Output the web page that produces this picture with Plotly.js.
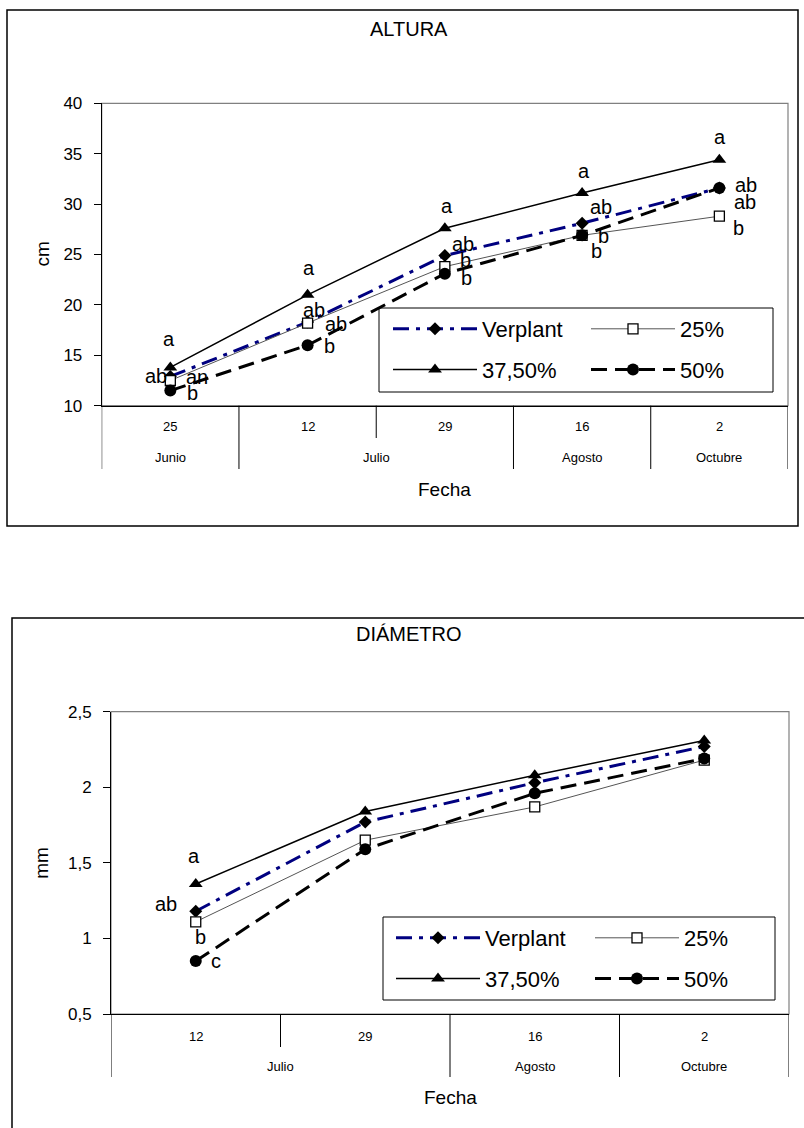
<!DOCTYPE html>
<html><head><meta charset="utf-8">
<script src="https://cdn.plot.ly/plotly-3.0.1.min.js"></script>
<style>html,body{margin:0;padding:0;background:#fff}</style>
</head><body><div id="chart" style="width:804px;height:1128px"></div>
<script>
// ---------------- DATA ----------------
const seriesNames = ['Verplant', '25%', '37,50%', '50%'];

// ALTURA (cm)
const alturaDays = ['25', '12', '29', '16', '2'];
const alturaMonths = ['Junio', 'Julio', 'Julio', 'Agosto', 'Octubre'];
const alturaVerplant = [12.9, 18.3, 24.9, 28.1, 31.6];
const altura25 = [12.5, 18.2, 23.8, 26.9, 28.8];
const altura3750 = [13.8, 21.0, 27.6, 31.1, 34.4];
const altura50 = [11.5, 16.0, 23.1, 26.9, 31.6];
const alturaLetVerplant = ['ab', 'ab', 'ab', 'ab', 'ab'];
const alturaLet25 = ['an', 'ab', 'b', 'b', 'b'];
const alturaLet3750 = ['a', 'a', 'a', 'a', 'a'];
const alturaLet50 = ['b', 'b', 'b', 'b', 'ab'];

// DIÁMETRO (mm)
const diamDays = ['12', '29', '16', '2'];
const diamMonths = ['Julio', 'Julio', 'Agosto', 'Octubre'];
const diamVerplant = [1.18, 1.77, 2.03, 2.27];
const diam25 = [1.11, 1.65, 1.87, 2.18];
const diam3750 = [1.36, 1.84, 2.08, 2.31];
const diam50 = [0.85, 1.59, 1.96, 2.19];
const diamLetVerplant = ['ab', '', '', ''];
const diamLet25 = ['b', '', '', ''];
const diamLet3750 = ['a', '', '', ''];
const diamLet50 = ['c', '', '', ''];

// ---------------- STYLE / POSITIONS ----------------
const W = 804, H = 1128;
const FONT = 'Liberation Sans, Arial, sans-serif';
const px = v => v / W;
const py = v => 1 - v / H;

const styles = [
  {line: {color: '#000080', width: 3, dash: '16px,7px,4px,7px'}, marker: {symbol: 'diamond', size: 10, color: '#000'}},
  {line: {color: '#555555', width: 1}, marker: {symbol: 'square', size: 10, color: '#fff', line: {color: '#000', width: 1.3}}},
  {line: {color: '#000', width: 1.5}, marker: {symbol: 'triangle-up', size: 12, color: '#000'}},
  {line: {color: '#000', width: 3, dash: '16px,8px'}, marker: {symbol: 'circle', size: 12, color: '#000'}}
];

// label offsets [xshift, yshift] per series and point
const alturaShift = [
  [[-14, 0], [6, 12], [18, 12], [19, 16], [26, -14]],
  [[27, 4], [28, -1], [21, 7], [21, -1], [19, -12]],
  [[-1, 28], [1, 27], [2, 22], [2, 22], [1, 23]],
  [[22, -2], [22, -1], [22, -4], [14, -16], [27, 3]]
];
const diamShift = [
  [[-30, 7], [0, 0], [0, 0], [0, 0]],
  [[5, -15], [0, 0], [0, 0], [0, 0]],
  [[-2, 28], [0, 0], [0, 0], [0, 0]],
  [[20, 0], [0, 0], [0, 0], [0, 0]]
];

const charts = [
  {
    days: alturaDays, months: alturaMonths,
    values: [alturaVerplant, altura25, altura3750, altura50],
    letters: [alturaLetVerplant, alturaLet25, alturaLet3750, alturaLet50],
    shifts: alturaShift,
    xa: 'x', ya: 'y', title: 'ALTURA', ytitle: 'cm',
    plot: {l: 101.7, r: 788, t: 103.3, b: 405.7},
    frame: {l: 7, r: 798, t: 10, b: 526},
    titleY: 29, dayY: 427, monthY: 457, divB: 469, innerB: 438, fechaY: 489, ytitleX: 42,
    yrange: [10, 40], dtick: 5,
    legBox: {l: 379, r: 773, t: 308, b: 392}, legTop: 308, legs: ['legend', 'legend2'], legX: [388, 586]
  },
  {
    days: diamDays, months: diamMonths,
    values: [diamVerplant, diam25, diam3750, diam50],
    letters: [diamLetVerplant, diamLet25, diamLet3750, diamLet50],
    shifts: diamShift,
    xa: 'x2', ya: 'y2', title: 'DIÁMETRO', ytitle: 'mm',
    plot: {l: 111, r: 789, t: 711.7, b: 1014},
    frame: {l: 12, r: 830, t: 618, b: 1160},
    titleY: 634, dayY: 1036, monthY: 1066, divB: 1077, innerB: 1047, fechaY: 1097, ytitleX: 42,
    yrange: [0.5, 2.5], dtick: 0.5,
    legBox: {l: 383, r: 775, t: 917, b: 1000}, legTop: 917, legs: ['legend3', 'legend4'], legX: [391, 590]
  }
];

const traces = [], annotations = [], shapes = [];
const layout = {
  width: W, height: H, margin: {l: 0, r: 0, t: 0, b: 0, autoexpand: false},
  paper_bgcolor: '#fff', plot_bgcolor: '#fff', showlegend: true,
  separators: ', ', font: {family: FONT, color: '#000'},
  annotations: annotations, shapes: shapes
};

function txt(o) {
  return Object.assign({showarrow: false, xanchor: 'center', yanchor: 'middle'}, o);
}

charts.forEach((c, ci) => {
  const xKey = ci === 0 ? 'xaxis' : 'xaxis2';
  const yKey = ci === 0 ? 'yaxis' : 'yaxis2';
  const n = c.days.length;
  layout[xKey] = {
    domain: [px(c.plot.l), px(c.plot.r)], anchor: c.ya, type: 'category',
    categoryorder: 'array', categoryarray: c.days, range: [-0.5, n - 0.5],
    showticklabels: false, ticks: '', showgrid: false, zeroline: false,
    showline: true, linecolor: '#000', linewidth: 1, fixedrange: true
  };
  layout[yKey] = {
    domain: [py(c.plot.b), py(c.plot.t)], anchor: c.xa, range: c.yrange,
    tick0: c.yrange[0], dtick: c.dtick, ticks: 'outside', ticklen: 7, tickcolor: '#000',
    tickfont: {size: 17, family: FONT}, ticklabelstandoff: 8,
    showgrid: false, zeroline: false, showline: true, linecolor: '#000', linewidth: 1, fixedrange: true
  };

  // series
  c.values.forEach((vals, si) => {
    const legName = si % 2 === 0 ? c.legs[0] : c.legs[1];
    traces.push({
      type: 'scatter', mode: 'lines+markers', name: seriesNames[si],
      x: c.days, y: vals, xaxis: c.xa, yaxis: c.ya,
      line: styles[si].line, marker: styles[si].marker,
      legend: legName, legendgroup: 'g' + ci + '_' + si, cliponaxis: false,
      hoverinfo: 'x+y+name'
    });
    // significance letters (x given as category index)
    c.letters[si].forEach((t, i) => {
      if (!t) return;
      annotations.push(txt({
        xref: c.xa, yref: c.ya, x: i, y: vals[i], text: t,
        xshift: c.shifts[si][i][0], yshift: c.shifts[si][i][1],
        font: {size: 20, family: FONT, color: '#000'}
      }));
    });
  });

  // legends (two columns)
  c.legs.forEach((lg, k) => {
    layout[lg] = {
      x: px(c.legX[k]), y: py(c.legTop), xanchor: 'left', yanchor: 'top',
      bgcolor: 'rgba(0,0,0,0)', borderwidth: 0, font: {size: 22, family: FONT, color: '#000'},
      itemwidth: 84, tracegroupgap: 9, traceorder: 'grouped', orientation: 'v'
    };
  });
  shapes.push({type: 'rect', xref: 'paper', yref: 'paper', layer: 'above',
    x0: px(c.legBox.l), x1: px(c.legBox.r), y0: py(c.legBox.b), y1: py(c.legBox.t),
    line: {color: '#000', width: 1}, fillcolor: 'rgba(0,0,0,0)'});

  // outer chart frame
  shapes.push({type: 'rect', xref: 'paper', yref: 'paper', layer: 'below',
    x0: px(c.frame.l), x1: px(c.frame.r), y0: py(c.frame.b), y1: py(c.frame.t),
    line: {color: '#000', width: 1.5}});
  // plot area border (grey)
  shapes.push({type: 'rect', xref: c.xa + ' domain', yref: c.ya + ' domain', layer: 'below',
    x0: 0, x1: 1, y0: 0, y1: 1, line: {color: '#808080', width: 1.2}});

  // category axis: month group spans
  const spans = [];
  let start = 0;
  for (let i = 1; i <= n; i++) {
    if (i === n || c.months[i] !== c.months[start]) {
      spans.push({name: c.months[start], start: start, end: i - 1});
      start = i;
    }
  }
  const yAxisP = py(c.plot.b);
  spans.forEach((s, k) => {
    shapes.push({type: 'line', xref: c.xa, yref: 'paper', x0: s.start - 0.5, x1: s.start - 0.5,
      y0: yAxisP, y1: py(c.divB), line: {color: '#000', width: 1}});
    if (k === spans.length - 1) {
      shapes.push({type: 'line', xref: c.xa, yref: 'paper', x0: s.end + 0.5, x1: s.end + 0.5,
        y0: yAxisP, y1: py(c.divB), line: {color: '#000', width: 1}});
    }
    for (let j = s.start + 1; j <= s.end; j++) {
      shapes.push({type: 'line', xref: c.xa, yref: 'paper', x0: j - 0.5, x1: j - 0.5,
        y0: yAxisP, y1: py(c.innerB), line: {color: '#000', width: 1}});
    }
    annotations.push(txt({xref: c.xa, yref: 'paper', x: (s.start + s.end) / 2, y: py(c.monthY),
      text: s.name, font: {size: 13, family: FONT}}));
  });
  c.days.forEach((d, i) => {
    annotations.push(txt({xref: c.xa, yref: 'paper', x: i, y: py(c.dayY), text: d,
      font: {size: 13, family: FONT}}));
  });

  // titles
  annotations.push(txt({xref: 'paper', yref: 'paper', x: px(409), y: py(c.titleY), text: c.title,
    font: {size: 20, family: FONT}}));
  annotations.push(txt({xref: c.xa + ' domain', yref: 'paper', x: 0.5, y: py(c.fechaY), text: 'Fecha',
    font: {size: 19, family: FONT}}));
  annotations.push(txt({xref: 'paper', yref: c.ya + ' domain', x: px(c.ytitleX), y: 0.5, text: c.ytitle,
    textangle: -90, font: {size: 19, family: FONT}}));
});

Plotly.newPlot('chart', traces, layout, {displayModeBar: false, staticPlot: true});
</script>
</body></html>
